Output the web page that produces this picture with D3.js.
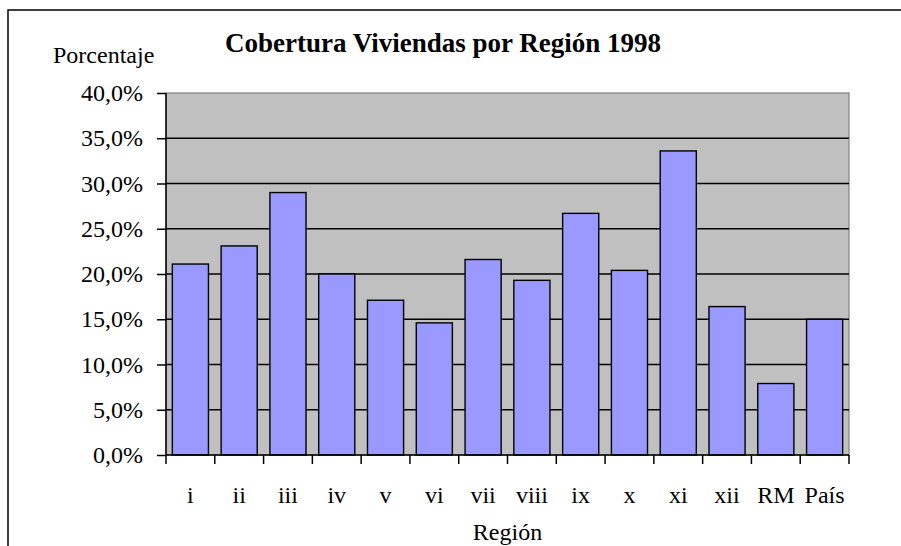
<!DOCTYPE html>
<html><head><meta charset="utf-8">
<script src="https://cdn.jsdelivr.net/npm/d3@7"></script>
<style>html,body{margin:0;padding:0;background:#fff;}svg{display:block;}</style>
</head><body>
<script>
const categories = ["i","ii","iii","iv","v","vi","vii","viii","ix","x","xi","xii","RM","País"];
const values = [21.1, 23.1, 29.0, 20.0, 17.1, 14.6, 21.6, 19.3, 26.7, 20.4, 33.6, 16.4, 7.9, 15.0];
const yTicks = [0,5,10,15,20,25,30,35,40];
const title = "Cobertura Viviendas por Región 1998";
const yTitle = "Porcentaje";
const xTitle = "Región";

const W = 901, H = 546;
const m = {left:166, right:849, top:93, bottom:455};
const svg = d3.select("body").append("svg").attr("width", W).attr("height", H);
const font = "'Liberation Serif','Times New Roman',serif";

svg.append("rect").attr("x",8).attr("y",10).attr("width",W).attr("height",H)
  .attr("fill","#fff").attr("stroke","#000").attr("stroke-width",1.5);

const x = d3.scaleBand().domain(categories).range([m.left, m.right]).paddingInner(0.26).paddingOuter(0.13);
const y = d3.scaleLinear().domain([0,40]).range([m.bottom, m.top]);

svg.append("rect").attr("x",m.left).attr("y",m.top).attr("width",m.right-m.left).attr("height",m.bottom-m.top)
  .attr("fill","#C0C0C0").attr("stroke","#808080").attr("stroke-width",1.2);

svg.append("g").selectAll("line").data(yTicks.filter(t=>t>0 && t<40)).join("line")
  .attr("x1",m.left).attr("x2",m.right).attr("y1",d=>y(d)).attr("y2",d=>y(d))
  .attr("stroke","#000").attr("stroke-width",1.4);

svg.append("g").selectAll("rect").data(values).join("rect")
  .attr("x",(d,i)=>x(categories[i])).attr("width",x.bandwidth())
  .attr("y",d=>y(d)).attr("height",d=>y(0)-y(d))
  .attr("fill","#9999FF").attr("stroke","#000").attr("stroke-width",1.4);

// Y axis
const yAxis = d3.axisLeft(y).tickValues(yTicks).tickSize(9).tickPadding(14)
  .tickFormat(d=>d3.format(".1f")(d).replace(".",",")+"%");
const gy = svg.append("g").attr("transform",`translate(${m.left},0)`).call(yAxis);
gy.select(".domain").attr("stroke","#000").attr("stroke-width",1.5).attr("d",`M0,${m.top}V${m.bottom}`);
gy.selectAll(".tick line").attr("stroke","#000").attr("stroke-width",1.5);
gy.selectAll(".tick text").attr("font-family",font).attr("font-size",24).attr("fill","#000");

// X axis
const step = x.step();
const xb = d3.scaleLinear().domain([0,categories.length]).range([m.left, m.right]);
const gx = svg.append("g").attr("transform",`translate(0,${m.bottom})`);
gx.append("line").attr("x1",m.left).attr("x2",m.right).attr("stroke","#000").attr("stroke-width",1.5);
gx.selectAll("line.t").data(d3.range(categories.length+1)).join("line").attr("class","t")
  .attr("x1",d=>xb(d)).attr("x2",d=>xb(d)).attr("y1",0).attr("y2",9)
  .attr("stroke","#000").attr("stroke-width",1.5);
gx.selectAll("text").data(categories).join("text")
  .attr("x",d=>x(d)+x.bandwidth()/2).attr("y",48).attr("text-anchor","middle")
  .attr("font-family",font).attr("font-size",24).attr("fill","#000").text(d=>d);

svg.append("text").attr("x",(m.left+m.right)/2).attr("y",540).attr("text-anchor","middle")
  .attr("font-family",font).attr("font-size",24).text(xTitle);
svg.append("text").attr("x",53).attr("y",63)
  .attr("font-family",font).attr("font-size",24).text(yTitle);
svg.append("text").attr("x",443).attr("y",52).attr("text-anchor","middle")
  .attr("font-family",font).attr("font-size",27).attr("font-weight","bold").text(title);
</script>
</body></html>
